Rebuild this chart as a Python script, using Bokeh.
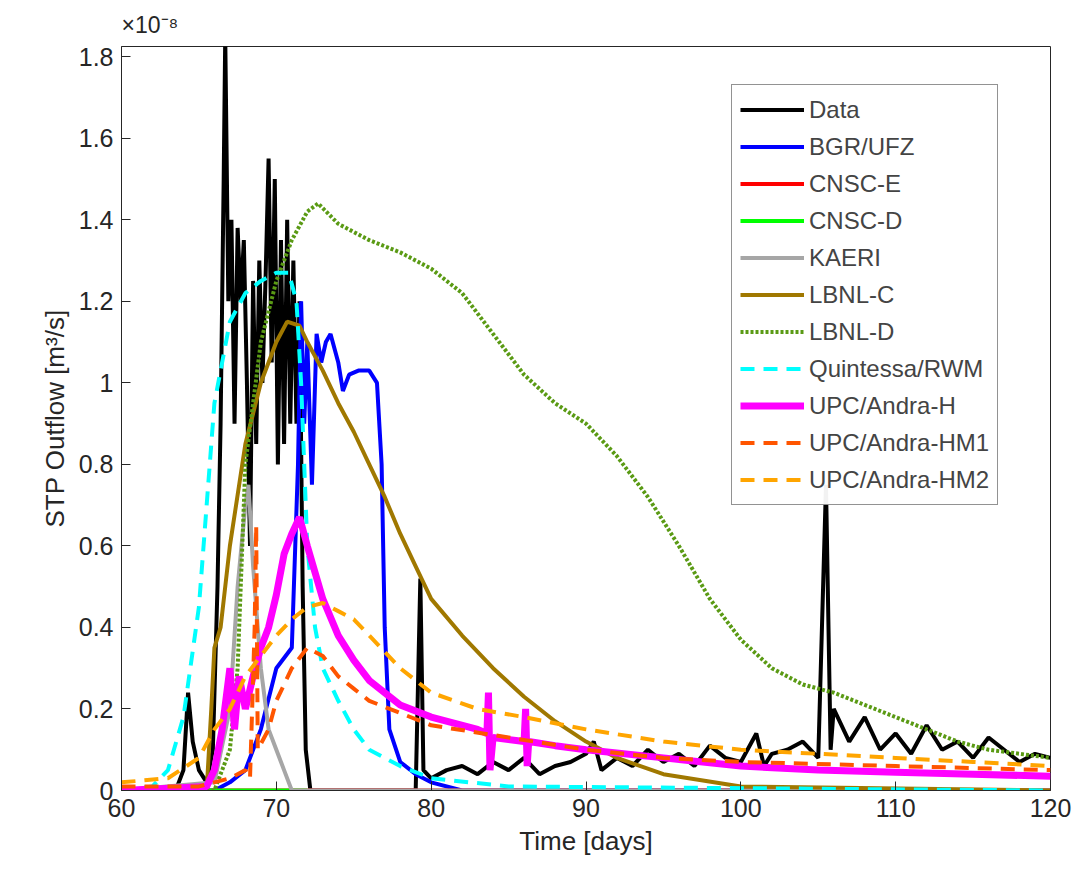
from bokeh.plotting import figure
from bokeh.models import Range1d, Legend, LegendItem, FixedTicker
from bokeh.embed import file_html
from bokeh.resources import INLINE

data_x = [60,63.5,64,64.3,64.6,65,65.5,65.9,66.2,66.4,66.6,66.7,66.9,67.1,67.3,67.5,67.7,67.9,68.1,68.3,68.5,68.7,68.9,69.1,69.3,69.5,69.7,69.9,70.1,70.3,70.5,70.7,70.9,71.1,71.3,71.5,71.7,71.9,72.2,79,79.3,79.5,80,81,82,83,84,85,86,87,88,89,90,90.5,91,92,93,94,95,96,97,98,99,100,101,101.5,102,103,104,105,105.5,105.8,106,107,108,109,110,111,112,113,114,115,116,117,118,119,120]
data_y = [0,0,0.05,0.24,0.12,0.05,0.02,0.1,0.5,0.9,1.5,1.85,1.2,1.4,0.9,1.38,1.2,1.35,1.0,0.6,1.25,0.85,1.3,1.0,1.25,1.55,1.05,1.5,0.8,1.35,0.85,1.4,0.9,1.3,0.9,1.2,0.5,0.1,0.0,0.0,0.52,0.05,0.03,0.05,0.06,0.04,0.07,0.05,0.08,0.04,0.06,0.07,0.09,0.12,0.05,0.08,0.06,0.1,0.07,0.09,0.06,0.11,0.08,0.07,0.14,0.06,0.09,0.1,0.12,0.08,0.75,0.1,0.2,0.12,0.18,0.1,0.14,0.09,0.16,0.1,0.12,0.08,0.13,0.1,0.07,0.09,0.08]

bgr_x = [60,66,67,68,69,70,71,71.4,71.6,71.8,72.0,72.3,72.6,72.9,73.2,73.5,74,74.3,74.7,75.3,76,76.5,76.8,77,77.3,78,79,80,82,120]
bgr_y = [0,0,0.02,0.05,0.15,0.3,0.35,0.8,1.2,0.9,1.1,0.75,1.12,1.05,1.1,1.12,1.05,0.98,1.02,1.03,1.03,1.0,0.8,0.4,0.15,0.07,0.04,0.02,0.0,0]

cnsce_x = [60,120]
cnsce_y = [0,0]
cnscd_x = [60,72]
cnscd_y = [0,0]

kaeri_x = [60,66,67,67.5,68,68.2,68.5,69,69.5,70,70.5,71,120]
kaeri_y = [0,0.02,0.2,0.5,0.7,0.75,0.55,0.3,0.15,0.1,0.05,0.0,0]

lbnlc_x = [60,65.5,65.8,66,66.4,67,68,69,70,70.7,71.5,72,73,74,75,76,77,78,79,80,82,84,86,88,90,92,95,100,120]
lbnlc_y = [0,0,0.2,0.35,0.4,0.6,0.85,1.0,1.1,1.15,1.14,1.1,1.03,0.95,0.88,0.8,0.72,0.63,0.55,0.47,0.38,0.3,0.23,0.17,0.12,0.08,0.04,0.01,0]

lbnld_x = [60,66,67,67.5,68,68.5,69,70,71,72,72.7,74,76,78,80,82,84,86,88,90,92,94,96,98,100,102,104,106,108,110,112,114,116,118,120]
lbnld_y = [0,0,0.1,0.3,0.8,0.95,1.1,1.25,1.35,1.42,1.44,1.39,1.35,1.32,1.28,1.22,1.12,1.02,0.95,0.9,0.82,0.72,0.6,0.47,0.37,0.3,0.26,0.24,0.21,0.18,0.15,0.12,0.1,0.09,0.08]

quin_x = [60,62,63,64,65,65.5,66,66.5,67,68,69,70,70.8,71.3,71.6,72,72.5,73,74,75,76,78,80,85,120]
quin_y = [0,0.01,0.05,0.18,0.45,0.7,0.95,1.05,1.15,1.22,1.25,1.27,1.27,1.2,1.0,0.6,0.4,0.3,0.22,0.15,0.1,0.06,0.03,0.01,0]

upch_x = [60,65.5,66,66.5,67,67.3,67.6,68,68.5,69,69.5,70,70.5,71,71.5,72,73,74,75,76,78,80,83,83.6,83.7,83.8,84,86,86.1,86.2,86.3,88,90,95,100,105,110,115,120]
upch_y = [0,0.01,0.05,0.15,0.3,0.15,0.28,0.2,0.28,0.35,0.4,0.48,0.58,0.63,0.67,0.6,0.47,0.38,0.32,0.27,0.21,0.18,0.15,0.14,0.24,0.05,0.13,0.12,0.2,0.06,0.12,0.11,0.1,0.08,0.06,0.05,0.045,0.04,0.035]

hm1_x = [60,65,66,67,68,68.3,68.6,68.7,68.8,69.5,70,71,72,73,74,75,76,78,80,85,90,95,100,110,120]
hm1_y = [0.01,0.01,0.02,0.03,0.05,0.03,0.4,0.65,0.1,0.15,0.22,0.3,0.35,0.33,0.28,0.25,0.22,0.19,0.16,0.13,0.1,0.08,0.07,0.06,0.05]

hm2_x = [60,63,65,66,67,68,69,70,71,72,73,74,75,76,78,80,83,86,90,95,100,105,110,115,120]
hm2_y = [0.02,0.03,0.08,0.15,0.2,0.28,0.33,0.38,0.42,0.45,0.46,0.44,0.42,0.38,0.3,0.24,0.2,0.18,0.15,0.12,0.1,0.09,0.08,0.07,0.06]

series = [
    ("Data", data_x, data_y, "black", 4, "solid"),
    ("BGR/UFZ", bgr_x, bgr_y, "#0000ff", 4, "solid"),
    ("CNSC-E", cnsce_x, cnsce_y, "#ff0000", 4, "solid"),
    ("CNSC-D", cnscd_x, cnscd_y, "#00ff00", 4, "solid"),
    ("KAERI", kaeri_x, kaeri_y, "#a6a6a6", 4, "solid"),
    ("LBNL-C", lbnlc_x, lbnlc_y, "#a07800", 4, "solid"),
    ("LBNL-D", lbnld_x, lbnld_y, "#5a9a14", 4, "3 2"),
    ("Quintessa/RWM", quin_x, quin_y, "#00ffff", 4, "14 9"),
    ("UPC/Andra-H", upch_x, upch_y, "#ff00ff", 7, "solid"),
    ("UPC/Andra-HM1", hm1_x, hm1_y, "#ff5500", 4, "14 9"),
    ("UPC/Andra-HM2", hm2_x, hm2_y, "#ffa500", 4, "14 9"),
]

p = figure(width=1075, height=880, output_backend="svg", toolbar_location=None,
           x_range=Range1d(60, 120), y_range=Range1d(0, 1.825),
           min_border_left=121, min_border_right=25, min_border_bottom=90,
           title="×10⁻⁸")
p.min_border_top = 0
p.title.text_font = "Liberation Sans"
p.title.text_font_size = "23px"
p.title.text_font_style = "normal"
p.title.text_color = "#262626"
p.title.offset = 0
p.title.standoff = 18
p.grid.visible = False
p.outline_line_color = "#262626"
p.outline_line_width = 1
items = []
for name, xs, ys, col, w, dash in series:
    r = p.line(xs, ys, line_color=col, line_width=w, line_dash=dash)
    items.append(LegendItem(label=name, renderers=[r]))

for ax in (p.xaxis[0], p.yaxis[0]):
    ax.major_label_text_font = "Liberation Sans"
    ax.major_label_text_font_size = "25px"
    ax.major_label_text_color = "#262626"
    ax.axis_label_text_font = "Liberation Sans"
    ax.axis_label_text_font_size = "26px"
    ax.axis_label_text_font_style = "normal"
    ax.axis_label_text_color = "#262626"
    ax.major_tick_in = 9
    ax.major_tick_out = 0
    ax.minor_tick_line_color = None
    ax.axis_line_color = "#262626"
    ax.major_tick_line_color = "#262626"
    ax.major_label_standoff = 8
    ax.axis_label_standoff = 6
p.xaxis.ticker = FixedTicker(ticks=[60,70,80,90,100,110,120])
p.yaxis.ticker = FixedTicker(ticks=[0,0.2,0.4,0.6,0.8,1.0,1.2,1.4,1.6,1.8])
p.yaxis.major_label_overrides = {0: "0", 1: "1"}
p.xaxis.axis_label = "Time [days]"
p.yaxis.axis_label = "STP Outflow [m³/s]"

leg = Legend(items=items, location=(610, 285))
leg.label_text_font = "Liberation Sans"
leg.label_text_font_size = "24px"
leg.label_height = 33
leg.glyph_height = 33
leg.glyph_width = 64
leg.spacing = 4
leg.padding = 8
leg.margin = 0
leg.border_line_color = "#262626"
leg.border_line_width = 1
p.add_layout(leg)

open("out.html", "w").write(file_html(p, INLINE))
